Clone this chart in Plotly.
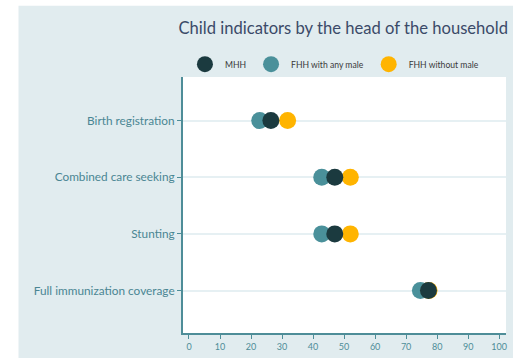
import plotly.graph_objects as go

# Indicators (top to bottom) and their values (%) by household head type
indicators = ["Birth registration", "Combined care seeking", "Stunting", "Full immunization coverage"]
positions = [4, 3, 2, 1]
mhh = [26.4, 47.0, 47.0, 77.2]
fhh_any_male = [22.8, 42.8, 42.8, 74.6]
fhh_without_male = [31.8, 52.0, 52.0, 77.4]

x_ticks = list(range(0, 101, 10))

PANEL = "#e1ecef"
TEAL = "#4e8d98"
FONT = "Lato"

fig = go.Figure()

# Draw order: teal, orange, then dark on top; legend order MHH first
fig.add_trace(go.Scatter(
    x=fhh_any_male, y=positions, mode="markers", name="FHH with any male",
    marker=dict(size=17, color="#4a909a"), legendrank=2,
))
fig.add_trace(go.Scatter(
    x=fhh_without_male, y=positions, mode="markers", name="FHH without male",
    marker=dict(size=17, color="#ffb400"), legendrank=3,
))
fig.add_trace(go.Scatter(
    x=mhh, y=positions, mode="markers", name="MHH",
    marker=dict(size=17, color="#1b3a3f"), legendrank=1,
))

fig.update_layout(
    width=513, height=358,
    margin=dict(l=183, r=6, t=77, b=22),
    paper_bgcolor=PANEL,
    plot_bgcolor="white",
    font=dict(family=FONT),
    title=dict(
        text="Child indicators by the head of the household",
        x=0.669, xanchor="center", y=0.922, yanchor="middle",
        font=dict(family=FONT, size=16.6, color="#3b4a68"),
    ),
    showlegend=True,
    legend=dict(
        orientation="h", x=0.006, xanchor="left", y=1.05, yanchor="middle",
        bgcolor="rgba(0,0,0,0)", font=dict(family=FONT, size=8.6, color="#3a3a3a"),
        traceorder="normal",
    ),
    xaxis=dict(
        range=[-1.93, 102.2], tickvals=x_ticks, ticktext=[str(v) for v in x_ticks],
        showgrid=False, zeroline=False, showline=True, linecolor=TEAL, linewidth=2,
        ticks="outside", ticklen=4, tickcolor=TEAL,
        tickfont=dict(family=FONT, size=9, color=TEAL),
    ),
    yaxis=dict(
        range=[0.25, 4.77], tickvals=positions, ticktext=indicators,
        showgrid=True, gridcolor="#e6f0f3", gridwidth=1.5, zeroline=False,
        showline=True, linecolor=TEAL, linewidth=2,
        ticks="outside", ticklen=4, tickcolor=TEAL,
        tickfont=dict(family=FONT, size=11.8, color="#4a8693"),
    ),
    shapes=[
        # white strips framing the panel on the left and top
        dict(type="rect", xref="paper", yref="paper", x0=-0.6, x1=-0.5093, y0=-0.2, y1=1.4,
             fillcolor="white", line=dict(width=0), layer="below"),
        dict(type="rect", xref="paper", yref="paper", x0=-0.6, x1=1.1, y0=1.278, y1=1.4,
             fillcolor="white", line=dict(width=0), layer="below"),
    ],
)

fig.write_html("out.html")
